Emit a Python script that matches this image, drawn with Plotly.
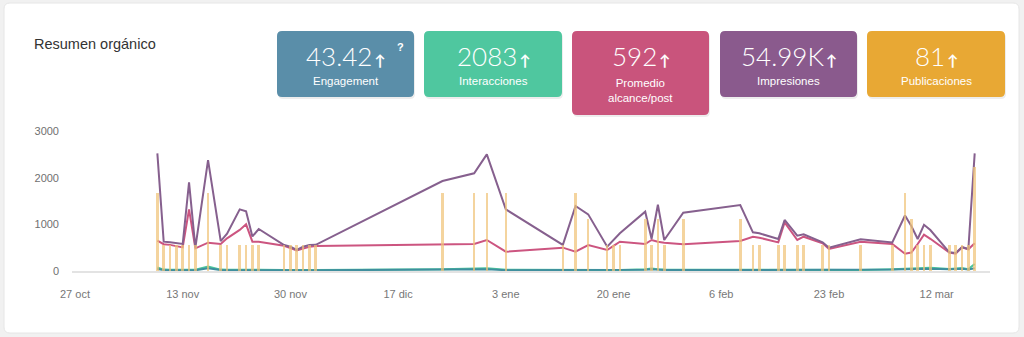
import plotly.graph_objects as go

# ---------------- data ----------------
dates = ["2020-11-09","2020-11-10","2020-11-11","2020-11-12","2020-11-13","2020-11-14","2020-11-15",
         "2020-11-17","2020-11-19","2020-11-20","2020-11-22","2020-11-23","2020-11-24","2020-11-25",
         "2020-11-29","2020-11-30","2020-12-01","2020-12-02","2020-12-03","2020-12-04","2020-12-24",
         "2020-12-29","2020-12-31","2021-01-03","2021-01-12","2021-01-14","2021-01-16","2021-01-19",
         "2021-01-20","2021-01-21","2021-01-25","2021-01-26","2021-01-27","2021-01-28","2021-01-31",
         "2021-02-09","2021-02-11","2021-02-12","2021-02-15","2021-02-16","2021-02-18","2021-02-19",
         "2021-02-22","2021-02-23","2021-02-28","2021-03-05","2021-03-07","2021-03-08","2021-03-09",
         "2021-03-10","2021-03-11","2021-03-14","2021-03-15","2021-03-16","2021-03-17","2021-03-18"]

publicaciones = [3,1,1,1,1,1,1,3,1,1,1,1,1,1,1,1,
                 1,1,1,1,3,3,3,
                 3,1,3,2,1,1,1,2,1,2,1,2,
                 2,1,1,1,1,1,1,1,1,1,
                 1,3,2,1,1,1,1,1,1,1,4]

impresiones = [2522,628,615,600,579,1900,500,2378,640,800,1321,1280,740,900,557,521,
               450,521,557,560,1928,2093,2500,
               1321,560,1393,1214,521,660,807,1271,690,1420,664,1250,
               1414,829,807,686,1093,757,786,614,500,679,
               610,1190,964,686,990,878,400,385,510,471,2522]

alcance = [650,575,560,540,505,1320,486,607,579,700,880,1000,628,628,540,490,
           440,480,520,536,579,579,664,
           414,500,414,557,450,540,628,579,664,628,607,571,
           643,735,714,614,1043,664,735,593,471,628,
           579,370,395,579,780,690,395,370,510,465,593]

interacciones = [75,30,25,25,22,35,25,95,30,25,30,30,25,25,20,20,
                 18,20,22,22,35,45,60,
                 25,22,28,30,20,22,20,40,55,40,30,28,
                 30,25,25,30,22,25,28,30,25,20,
                 40,55,60,65,75,70,45,50,65,40,150]

engagement = [45,20,18,18,15,30,15,60,20,18,20,22,18,18,15,15,
              14,15,16,16,25,30,35,
              18,16,20,22,15,16,15,28,35,28,22,20,
              22,18,18,22,16,18,20,22,18,15,
              30,40,45,50,55,50,35,38,48,30,60]

x_tick_vals = ["2020-10-27","2020-11-13","2020-11-30","2020-12-17","2021-01-03",
               "2021-01-20","2021-02-06","2021-02-23","2021-03-12"]
x_tick_text = ["27 oct","13 nov","30 nov","17 dic","3 ene","20 ene","6 feb","23 feb","12 mar"]
y_tick_vals = [0, 1000, 2000, 3000]

kpi_values = ["43.42", "2083", "592", "54.99K", "81"]
kpi_labels = ["Engagement", "Interacciones", "Promedio<br>alcance/post", "Impresiones", "Publicaciones"]

# ---------------- figure ----------------
W, H = 1024, 337
def px(x): return x / W
def py(y): return 1 - y / H

fig = go.Figure()

fig.add_trace(go.Bar(x=dates, y=publicaciones, yaxis="y2",
                     marker=dict(color="rgba(240,196,120,0.72)", line=dict(width=0)),
                     width=3.5e7, name="Publicaciones", hoverinfo="skip"))
fig.add_trace(go.Scatter(x=dates, y=interacciones, mode="lines", line=dict(color="#4cc59c", width=2),
                         name="Interacciones"))
fig.add_trace(go.Scatter(x=dates, y=engagement, mode="lines", line=dict(color="#3f8f9e", width=2),
                         name="Engagement"))
fig.add_trace(go.Scatter(x=dates, y=alcance, mode="lines", line=dict(color="#cc5580", width=2),
                         name="Alcance"))
fig.add_trace(go.Scatter(x=dates, y=impresiones, mode="lines", line=dict(color="#86608e", width=2),
                         name="Impresiones"))

def rrect(x0, y0, x1, y1, r):
    rx, ry = r / W, r / H
    X0, X1 = px(x0), px(x1)
    Y0, Y1 = py(y0), py(y1)
    return (f"M {X0+rx} {Y0} L {X1-rx} {Y0} Q {X1} {Y0} {X1} {Y0-ry} "
            f"L {X1} {Y1+ry} Q {X1} {Y1} {X1-rx} {Y1} L {X0+rx} {Y1} "
            f"Q {X0} {Y1} {X0} {Y1+ry} L {X0} {Y0-ry} Q {X0} {Y0} {X0+rx} {Y0} Z")

shapes = []
shapes.append(dict(type="path", xref="paper", yref="paper", layer="below",
                   path=rrect(4, 3, 1019, 333, 6), fillcolor="white",
                   line=dict(color="#e6e6e6", width=1)))

cards = [
    (277, 31, 414, 97, "#5a8ea9"),
    (424, 31, 562, 97, "#4fc79f"),
    (572, 31, 709, 115, "#c9547c"),
    (720, 31, 857, 97, "#8a5a8d"),
    (867, 31, 1005, 97, "#e8a834"),
]
annotations = []
for i, (x0, y0, x1, y1, c) in enumerate(cards):
    shapes.append(dict(type="path", xref="paper", yref="paper", layer="above",
                       path=rrect(x0 + 1, y0 + 2, x1 + 1, y1 + 2, 5),
                       fillcolor="rgba(0,0,0,0.07)", line=dict(width=0)))
    shapes.append(dict(type="path", xref="paper", yref="paper", layer="above",
                       path=rrect(x0, y0, x1, y1, 5), fillcolor=c, line=dict(width=0)))
    cx = (x0 + x1) / 2
    annotations.append(dict(xref="paper", yref="paper", x=px(cx), y=py(56.5),
                            text=kpi_values[i] + "<span style='font-size:15px'><b>\u2009↑</b></span>",
                            showarrow=False, xanchor="center", yanchor="middle",
                            font=dict(family="Lato", size=26, color="white", weight=300)))
    if i == 2:
        annotations.append(dict(xref="paper", yref="paper", x=px(cx), y=py(90),
                                text="Promedio<br>alcance/post", showarrow=False,
                                xanchor="center", yanchor="middle", align="center",
                                font=dict(family="Liberation Sans", size=11.5, color="white")))
    else:
        annotations.append(dict(xref="paper", yref="paper", x=px(cx), y=py(81),
                                text=kpi_labels[i], showarrow=False,
                                xanchor="center", yanchor="middle",
                                font=dict(family="Liberation Sans", size=11.5, color="white")))

annotations.append(dict(xref="paper", yref="paper", x=px(400), y=py(47), text="<b>?</b>",
                        showarrow=False, xanchor="center", yanchor="middle",
                        font=dict(family="Liberation Sans", size=11, color="white")))
annotations.append(dict(xref="paper", yref="paper", x=px(32), y=py(44), text="Resumen orgánico",
                        showarrow=False, xanchor="left", yanchor="middle",
                        font=dict(family="Liberation Sans", size=14.5, color="#333333")))

fig.update_layout(
    width=W, height=H,
    margin=dict(l=0, r=0, t=0, b=0),
    paper_bgcolor="#f1f1f1",
    plot_bgcolor="rgba(0,0,0,0)",
    showlegend=False,
    bargap=0,
    shapes=shapes,
    annotations=annotations,
    xaxis=dict(domain=[px(72), px(990)], type="date",
               range=["2020-10-26 12:40", "2021-03-20 10:00"],
               tickvals=x_tick_vals, ticktext=x_tick_text,
               showgrid=False, zeroline=False, showline=True,
               linecolor="#e3e3e3", linewidth=2, ticks="",
               ticklabelstandoff=12, automargin=False,
               tickfont=dict(family="Liberation Sans", size=11, color="#777777")),
    yaxis=dict(domain=[1 - 271 / H, 1 - 131 / H], range=[0, 3000],
               tickvals=y_tick_vals, showgrid=False, zeroline=False, showline=False,
               ticks="", ticklabelstandoff=12, automargin=False,
               tickfont=dict(family="Liberation Sans", size=11, color="#707070")),
    yaxis2=dict(domain=[1 - 271 / H, 1 - 131 / H], overlaying="y", range=[0, 5.39],
                visible=False, showgrid=False, zeroline=False),
)

fig.write_html("out.html", config={"responsive": False, "displayModeBar": False},
               post_script="document.body.style.margin='0px';document.body.style.overflow='hidden';")
